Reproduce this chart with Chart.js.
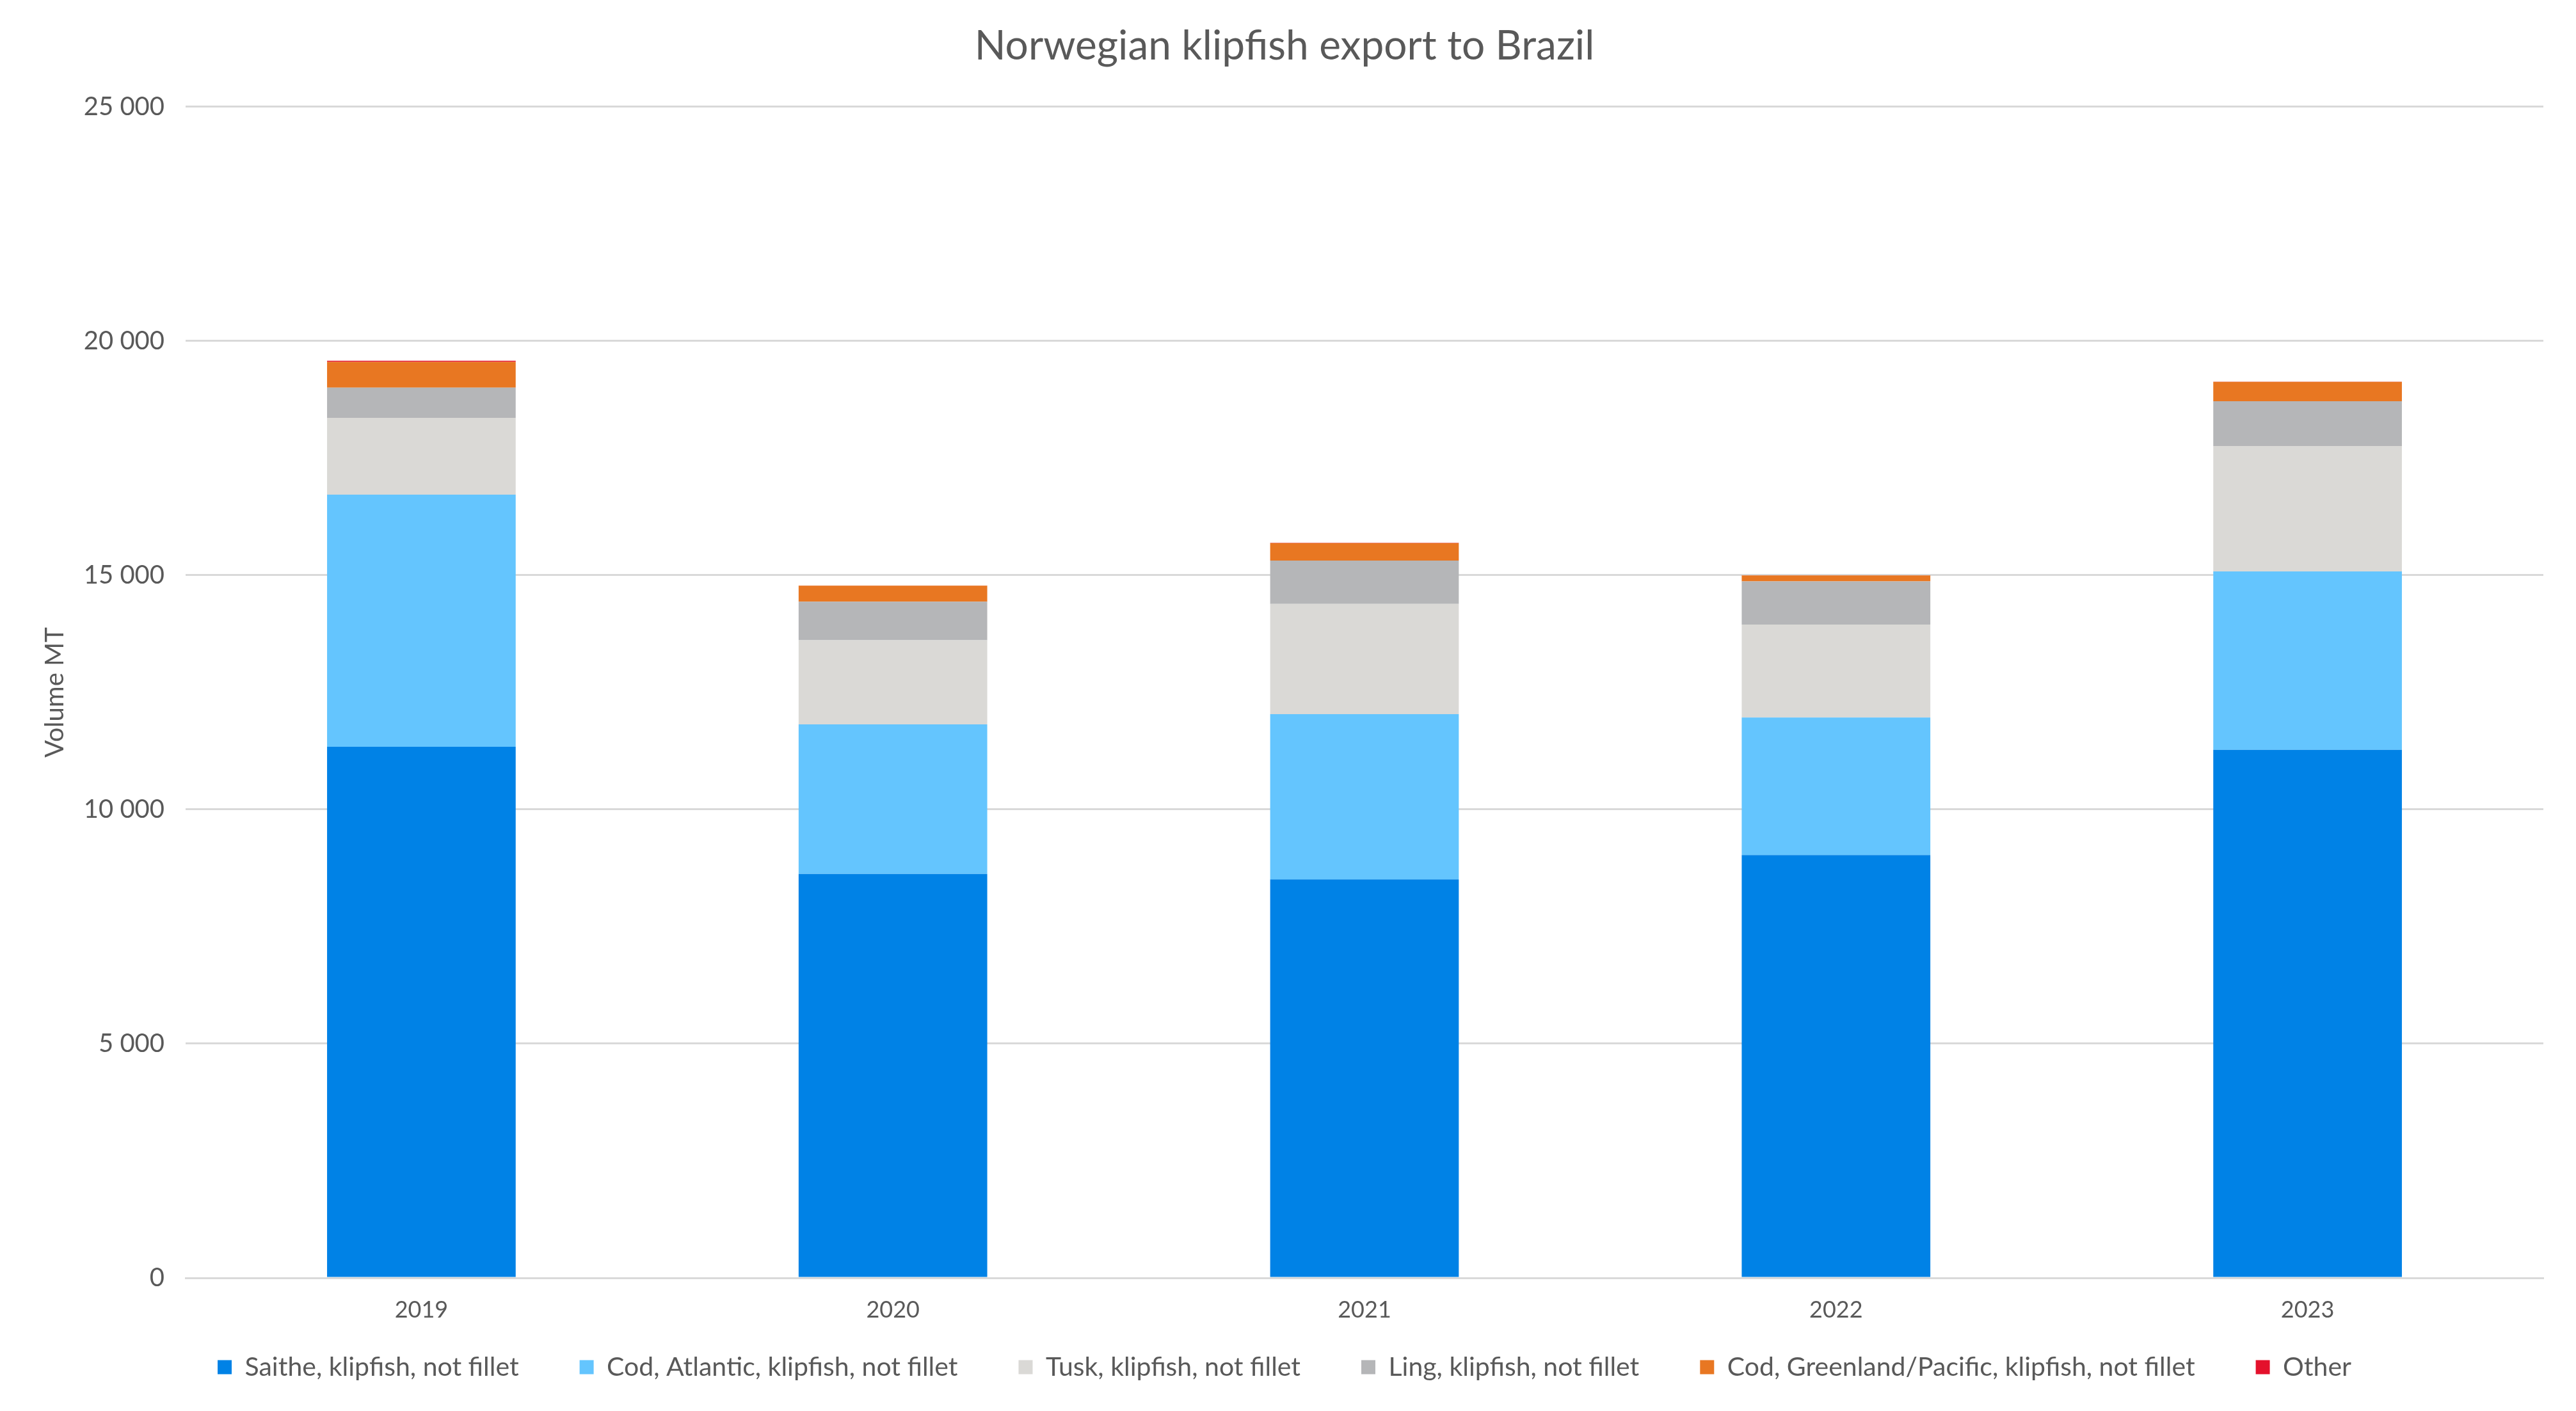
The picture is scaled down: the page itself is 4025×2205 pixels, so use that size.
<!DOCTYPE html>
<html>
<head>
<meta charset="utf-8">
<script src="https://cdn.jsdelivr.net/npm/chart.js@4/dist/chart.umd.min.js"></script>
<style>
  html, body { margin: 0; padding: 0; background: #ffffff; }
  #wrap { width: 4025px; height: 2205px; position: relative; }
</style>
</head>
<body>
<div id="wrap"><canvas id="c" width="4025" height="2205"></canvas></div>
<script>
const years = ['2019', '2020', '2021', '2022', '2023'];
const seriesNames = [
  'Saithe, klipfish, not fillet',
  'Cod, Atlantic, klipfish, not fillet',
  'Tusk, klipfish, not fillet',
  'Ling, klipfish, not fillet',
  'Cod, Greenland/Pacific, klipfish, not fillet',
  'Other'
];
const saithe = [11338, 8623, 8505, 9026, 11273];
const codAtlantic = [5381, 3194, 3528, 2937, 3806];
const tusk = [1641, 1795, 2355, 1985, 2677];
const ling = [643, 823, 923, 921, 958];
const codGreenland = [551, 340, 374, 126, 413];
const other = [25, 5, 5, 5, 5];
const yMin = 0;
const yMax = 25000;
const yStep = 5000;

const colors = ['#0082E6', '#64C5FE', '#DAD9D6', '#B5B6B8', '#E87722', '#E4112C'];
const values = [saithe, codAtlantic, tusk, ling, codGreenland, other];

const textColor = '#595959';
const fontFamily = 'Lato, "Open Sans", sans-serif';
const legendItemGap = 95;
const legendTopGap = 47;

function fmt(v) {
  return String(v).replace(/\B(?=(\d{3})+(?!\d))/g, ' ');
}

// keeps wide gaps between legend items while pulling the legend row up
const legendLift = {
  id: 'legendLift',
  afterLayout(chart) {
    const lg = chart.legend;
    if (!lg) return;
    const shift = legendItemGap - legendTopGap;
    lg.top -= shift;
    lg.bottom -= shift;
  }
};

new Chart(document.getElementById('c'), {
  type: 'bar',
  data: {
    labels: years,
    datasets: seriesNames.map((name, i) => ({
      label: name,
      data: values[i],
      backgroundColor: colors[i],
      borderWidth: 0,
      categoryPercentage: 1.0,
      barPercentage: 0.4
    }))
  },
  plugins: [legendLift],
  options: {
    responsive: false,
    devicePixelRatio: 1,
    animation: false,
    layout: { padding: { left: 40, right: 51, top: 34, bottom: -10 } },
    plugins: {
      title: {
        display: true,
        text: 'Norwegian klipfish export to Brazil',
        color: textColor,
        font: { family: fontFamily, size: 64, weight: 'normal' },
        padding: { top: 0, bottom: 56 }
      },
      legend: {
        position: 'bottom',
        labels: {
          color: textColor,
          font: { family: fontFamily, size: 41 },
          boxWidth: 22,
          boxHeight: 22,
          padding: legendItemGap
        }
      },
      tooltip: { enabled: false }
    },
    scales: {
      x: {
        stacked: true,
        grid: { display: false, drawTicks: false },
        border: { display: true, color: '#D9D9D9', width: 3 },
        ticks: { color: textColor, font: { family: fontFamily, size: 36 }, padding: 29 },
        afterFit: (s) => { s.height = 72; }
      },
      y: {
        stacked: true,
        min: yMin,
        max: yMax,
        grid: { color: '#D9D9D9', lineWidth: 3, drawTicks: false },
        border: { display: false },
        ticks: {
          stepSize: yStep,
          color: textColor,
          font: { family: fontFamily, size: 40 },
          padding: 33,
          callback: (v) => fmt(v)
        },
        title: {
          display: true,
          text: 'Volume MT',
          color: textColor,
          font: { family: fontFamily, size: 40 },
          padding: { top: 22, bottom: 4 }
        },
        afterFit: (s) => { s.width = 250; }
      }
    }
  }
});
</script>
</body>
</html>
